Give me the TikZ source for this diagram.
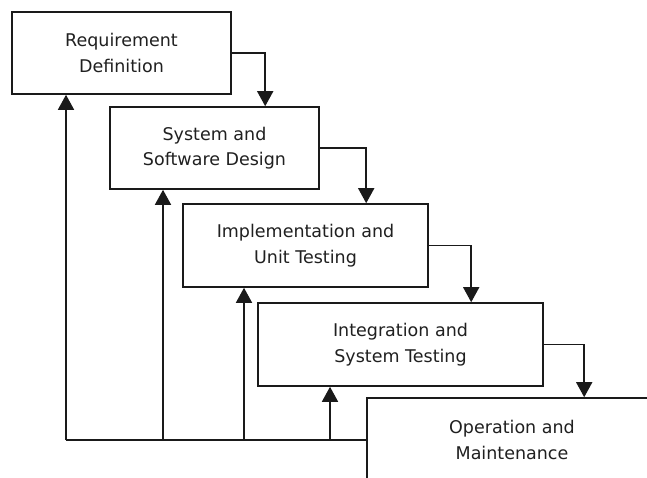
\documentclass[tikz,border=0pt]{standalone}
\usepackage{fontspec}
\setmainfont{DejaVu Sans}
\usetikzlibrary{arrows.meta}
\definecolor{ink}{HTML}{1A1A1A}
\definecolor{txt}{HTML}{202020}
\begin{document}
\begin{tikzpicture}[x=1pt,y=-1pt,
  stage/.style={draw=ink, line width=1.6pt, fill=white, rectangle, inner sep=0pt,
    align=center, text=txt, font=\fontsize{17.5}{25.5}\selectfont},
  link/.style={draw=ink, line width=1.6pt},
  flow/.style={link, -{Triangle[width=16pt,length=15pt]}}]
  \useasboundingbox (0,0) rectangle (647,477);
  \clip (0,0) rectangle (647,477);
  \fill[white] (0,0) rectangle (647,477);

  % process stages
  \node[stage, minimum width=219pt, minimum height=82pt] (req) at (121.5,53) {Requirement\\Definition};
  \node[stage, minimum width=209pt, minimum height=82pt] (sys) at (214.5,148) {System and\\Software Design};
  \node[stage, minimum width=245pt, minimum height=83pt] (imp) at (305.5,245.5) {Implementation and\\Unit Testing};
  \node[stage, minimum width=285pt, minimum height=83pt] (int) at (400.5,344.5) {Integration and\\System Testing};
  \node[stage, minimum width=290pt, minimum height=84pt] (ops) at (512,440) {Operation and\\Maintenance};

  % forward flow between stages
  \draw[flow] (req.east) -| ([xshift=156pt]sys.north west);
  \draw[flow] (sys.east) -| ([xshift=184pt]imp.north west);
  \draw[flow] (imp.east) -| ([xshift=214pt]int.north west);
  \draw[flow] (int.east) -| ([xshift=218pt]ops.north west);

  % feedback to earlier stages
  \coordinate (fb1) at (66,440);
  \coordinate (fb2) at (163,440);
  \coordinate (fb3) at (244,440);
  \coordinate (fb4) at (330,440);
  \draw[link] (fb1) -- (fb1 -| ops.west);
  \draw[flow] (fb1) -- (fb1 |- req.south);
  \draw[flow] (fb2) -- (fb2 |- sys.south);
  \draw[flow] (fb3) -- (fb3 |- imp.south);
  \draw[flow] (fb4) -- (fb4 |- int.south);
\end{tikzpicture}
\end{document}
